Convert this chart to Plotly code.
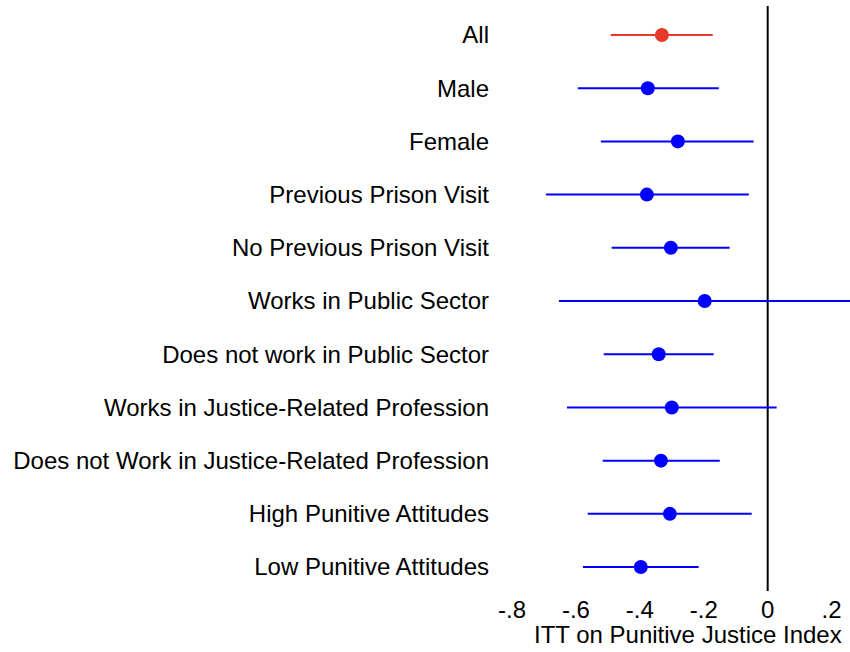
import plotly.graph_objects as go

categories = [
    "All", "Male", "Female", "Previous Prison Visit", "No Previous Prison Visit",
    "Works in Public Sector", "Does not work in Public Sector",
    "Works in Justice-Related Profession", "Does not Work in Justice-Related Profession",
    "High Punitive Attitudes", "Low Punitive Attitudes",
]
estimates = [-0.331, -0.375, -0.281, -0.378, -0.303, -0.197, -0.341, -0.300, -0.334, -0.306, -0.397]
ci_low = [-0.491, -0.594, -0.522, -0.694, -0.488, -0.653, -0.513, -0.628, -0.516, -0.563, -0.578]
ci_high = [-0.172, -0.153, -0.044, -0.059, -0.119, 0.270, -0.169, 0.028, -0.150, -0.050, -0.216]
tick_vals = [-0.8, -0.6, -0.4, -0.2, 0, 0.2]
tick_text = ["-.8", "-.6", "-.4", "-.2", "0", ".2"]

RED = "#E8382B"
BLUE = "#0000FF"
colors = [RED] + [BLUE] * (len(categories) - 1)

fig = go.Figure()
ypos = list(range(len(categories)))
for i, c in enumerate(categories):
    fig.add_trace(go.Scatter(
        x=[estimates[i]], y=[i], mode="markers",
        marker=dict(color=colors[i], size=14, line=dict(width=0)),
        error_x=dict(type="data", symmetric=False,
                     array=[ci_high[i] - estimates[i]],
                     arrayminus=[estimates[i] - ci_low[i]],
                     color=colors[i], thickness=2, width=0),
        showlegend=False, cliponaxis=True,
    ))

fig.add_shape(type="line", xref="x", yref="paper", x0=0, x1=0, y0=0, y1=1,
              line=dict(color="black", width=2), layer="below")

fig.add_annotation(text="ITT on Punitive Justice Index", xref="paper", yref="paper",
                   x=0.547, y=0, yshift=-43, xanchor="center", yanchor="middle",
                   showarrow=False, font=dict(size=24, color="black"))

fig.update_layout(
    width=850, height=652,
    margin=dict(l=492, r=0, t=6, b=61),
    paper_bgcolor="white", plot_bgcolor="white",
    font=dict(family="Liberation Sans, Arial, sans-serif", size=24, color="black"),
    xaxis=dict(range=[-0.8625, 0.2575], tickvals=tick_vals, ticktext=tick_text,
               showgrid=False, zeroline=False, showline=False, ticks="",
               ticklabelstandoff=2),
    yaxis=dict(range=[10.45, -0.545], tickvals=ypos, ticktext=categories,
               showgrid=False, zeroline=False, showline=False, ticks="",
               ticklabelstandoff=2),
)

fig.write_html("out.html", config={"displayModeBar": False},
               post_script="document.body.style.margin='0';")
